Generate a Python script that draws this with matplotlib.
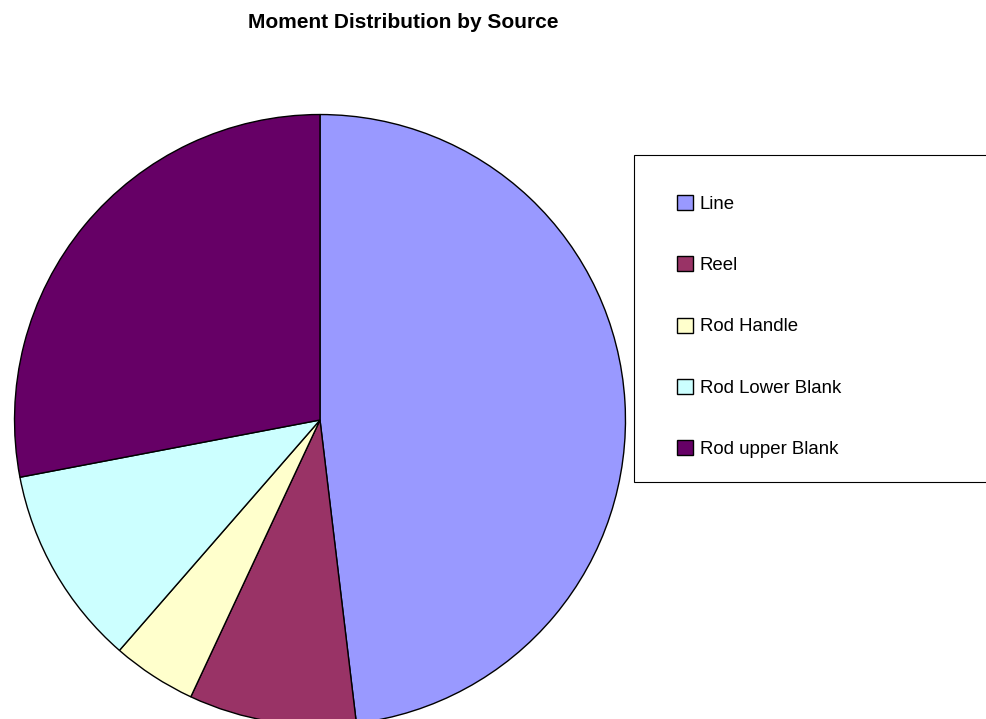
import matplotlib
matplotlib.use("Agg")
import matplotlib.pyplot as plt
from matplotlib.patches import Rectangle

# -------------------------------------------------------------------
# DATA
# -------------------------------------------------------------------
sources = ["Line", "Reel", "Rod Handle", "Rod Lower Blank", "Rod upper Blank"]
share = [48.1, 8.85, 4.45, 10.6, 28.0]
colors = ["#9999FF", "#993366", "#FFFFCC", "#CCFFFF", "#660066"]

plt.rcParams["font.family"] = ["Liberation Sans", "DejaVu Sans"]

W, H = 986, 719
fig = plt.figure(figsize=(W / 100, H / 100), dpi=100)
fig.patch.set_facecolor("white")

# pie centre (320, 420) px from top-left, radius 307 px
cx, cy, r = 320, 420, 307
ax = fig.add_axes([(cx - r) / W, (H - cy - r) / H, 2 * r / W, 2 * r / H])
wedges, _ = ax.pie(
    share, colors=colors, startangle=90, counterclock=False, radius=1.0,
    wedgeprops=dict(edgecolor="black", linewidth=1.0),
)
ax.set_xlim(-1.005, 1.005)
ax.set_ylim(-1.005, 1.005)
ax.set_aspect("equal")
ax.axis("off")

fig.text(403 / W, 1 - 28 / H, "Moment Distribution by Source",
         ha="center", va="baseline", fontsize=15, fontweight="bold")

# legend frame
fig.patches.append(Rectangle((634 / W, 1 - 482 / H), 400 / W, 327 / H,
                             transform=fig.transFigure, facecolor="white",
                             edgecolor="black", linewidth=0.8))

leg = fig.legend(
    wedges, sources, loc="upper left",
    bbox_to_anchor=(677 / W, 1 - 195 / H), frameon=False,
    fontsize=13.4, borderpad=0, borderaxespad=0,
    handlelength=0.86, handleheight=0.86, handletextpad=0.35,
    labelspacing=2.33,
)
for h in leg.legend_handles:
    h.set_linewidth(1.0)

fig.savefig("out.png", dpi=100)
